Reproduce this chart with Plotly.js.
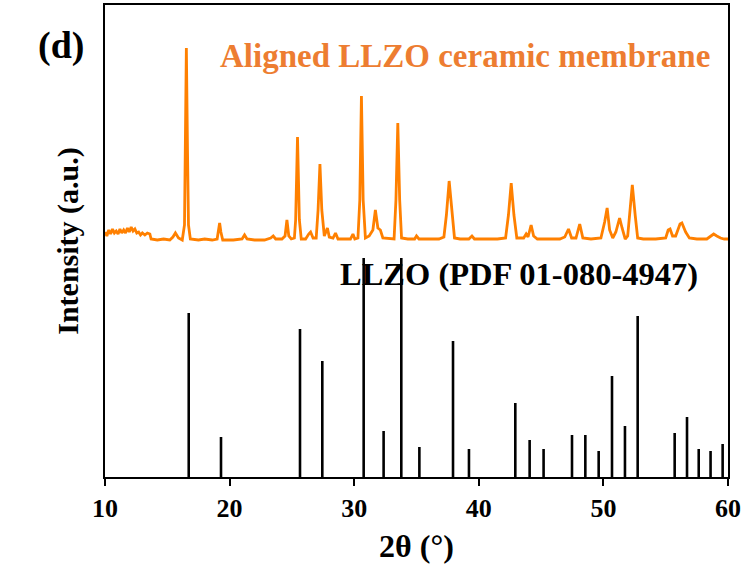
<!DOCTYPE html>
<html>
<head>
<meta charset="utf-8">
<script src="https://cdn.plot.ly/plotly-3.0.1.min.js"></script>
<style>html,body{margin:0;padding:0;background:#fff;}#chart{width:744px;height:569px;}</style>
</head>
<body>
<div id="chart"></div>
<script>
// Measured pattern: 2θ (°) and intensity (a.u.)
var measured2Theta = [10.0,10.15,10.3,10.45,10.6,10.75,10.9,11.05,11.2,11.35,11.5,11.65,11.8,11.95,12.1,12.25,12.4,12.55,12.7,12.85,13.0,13.2,13.4,13.6,13.7,14.2,14.7,15.2,15.45,15.65,15.9,16.2,16.38,16.45,16.53,16.62,16.7,16.85,17.5,18.0,18.6,19.0,19.1,19.2,19.3,19.45,20.3,21.0,21.2,21.4,22.0,22.8,23.3,23.5,23.7,24.2,24.45,24.6,24.75,24.95,25.2,25.3,25.45,25.6,25.75,26.1,26.35,26.5,26.7,26.95,27.1,27.25,27.4,27.6,27.85,28.0,28.3,28.5,28.7,29.2,29.7,29.9,30.05,30.3,30.45,30.58,30.72,30.9,31.2,31.5,31.7,31.9,32.1,32.3,33.2,33.35,33.5,33.65,33.8,34.3,34.85,35.0,35.2,36.0,36.8,37.2,37.4,37.62,37.85,38.05,38.5,39.2,39.45,39.65,40.5,41.5,42.15,42.38,42.6,42.82,43.05,43.6,43.8,43.95,44.2,44.4,44.7,45.5,46.5,46.9,47.2,47.45,47.8,48.1,48.35,49.0,49.8,50.1,50.3,50.5,50.75,51.0,51.3,51.5,51.75,51.95,52.1,52.32,52.55,52.75,53.2,54.2,55.0,55.2,55.35,55.55,55.8,56.15,56.3,56.6,56.9,57.5,58.3,58.7,58.85,59.1,59.4,59.7,60.0];
var measuredIntensity = [245,241,247,243,248,244,246,243,248,244,247,244,249,245,250,246,248,244,245,242,244,242,244,243,238,237,238,237,240,244,239,237,252,327,429,327,252,238,237,238,237,238,245,254,245,237,237,238,242,238,237,237,239,241,238,238,241,257,241,238,239,257,340,257,238,238,243,245,239,239,267,313,267,241,249,240,239,244,238,238,238,243,238,239,277,381,277,239,241,247,267,249,247,239,238,277,354,277,239,238,238,241,238,238,238,240,262,296,262,239,238,238,241,238,238,238,239,262,294,262,239,239,243,240,252,241,238,238,238,240,248,239,239,253,239,238,239,255,269,247,239,245,259,249,238,241,262,292,262,239,238,238,239,247,248,241,241,253,254,245,239,238,238,241,243,241,239,238,238];

// Reference pattern LLZO (PDF 01-080-4947)
var ref2Theta = [16.72,19.31,25.65,27.44,30.76,32.36,33.78,35.23,37.93,39.21,42.93,44.08,45.2,47.48,48.55,49.62,50.69,51.73,52.75,55.72,56.71,57.65,58.6,59.57];
var refIntensity = [164,40,148,116,219,46,219,30,136,28,74,37,28,42,42,26,101,51,161,44,60,28,26,33];

var xTicks = [10,20,30,40,50,60];
var xTickText = ['10','20','30','40','50','60'];

var serif = '"Liberation Serif","Times New Roman",serif';

var stickX = [], stickY = [];
for (var i = 0; i < ref2Theta.length; i++) {
  stickX.push(ref2Theta[i], ref2Theta[i], null);
  stickY.push(0, refIntensity[i], null);
}

var traces = [
  {x: measured2Theta, y: measuredIntensity, type: 'scatter', mode: 'lines',
   line: {color: '#ff8000', width: 2.8}, hoverinfo: 'skip', showlegend: false},
  {x: stickX, y: stickY, type: 'scatter', mode: 'lines',
   line: {color: '#000000', width: 2.6}, hoverinfo: 'skip', showlegend: false}
];

var layout = {
  width: 744, height: 569,
  margin: {l: 105, r: 16, t: 5, b: 92, pad: 0},
  paper_bgcolor: '#ffffff', plot_bgcolor: '#ffffff',
  showlegend: false,
  font: {family: serif, color: '#000000'},
  xaxis: {
    range: [10, 60], tickmode: 'array', tickvals: xTicks, ticktext: xTickText,
    ticks: 'outside', ticklen: 7, tickwidth: 2, tickcolor: '#000',
    showline: true, linecolor: '#000', linewidth: 2, mirror: true,
    showgrid: false, zeroline: false,
    tickfont: {family: serif, size: 26, weight: 'bold', color: '#000'},
    title: {text: '2θ (°)', font: {family: serif, size: 32, weight: 'bold', color: '#000'}, standoff: 12}
  },
  yaxis: {
    range: [0, 472], showticklabels: false, ticks: '',
    showline: true, linecolor: '#000', linewidth: 2, mirror: true,
    showgrid: false, zeroline: false,
    title: {text: 'Intensity (a.u.)', font: {family: serif, size: 30, weight: 'bold', color: '#000'}, standoff: 16}
  },
  annotations: [
    {text: '(d)', xref: 'paper', yref: 'paper', x: -0.0706, y: 0.915, xanchor: 'center', yanchor: 'middle',
     showarrow: false, font: {family: serif, size: 38, weight: 'bold', color: '#000'}},
    {text: 'Aligned LLZO ceramic membrane', xref: 'x', yref: 'paper', x: 38.9, y: 0.892, xanchor: 'center', yanchor: 'middle',
     showarrow: false, font: {family: serif, size: 33, weight: 'bold', color: '#ed7d31'}},
    {text: 'LLZO (PDF 01-080-4947)', xref: 'x', yref: 'paper', x: 43.19, y: 0.43, xanchor: 'center', yanchor: 'middle',
     showarrow: false, font: {family: serif, size: 32.5, weight: 'bold', color: '#000'}}
  ]
};

Plotly.newPlot('chart', traces, layout, {staticPlot: true, displayModeBar: false});
</script>
</body>
</html>
